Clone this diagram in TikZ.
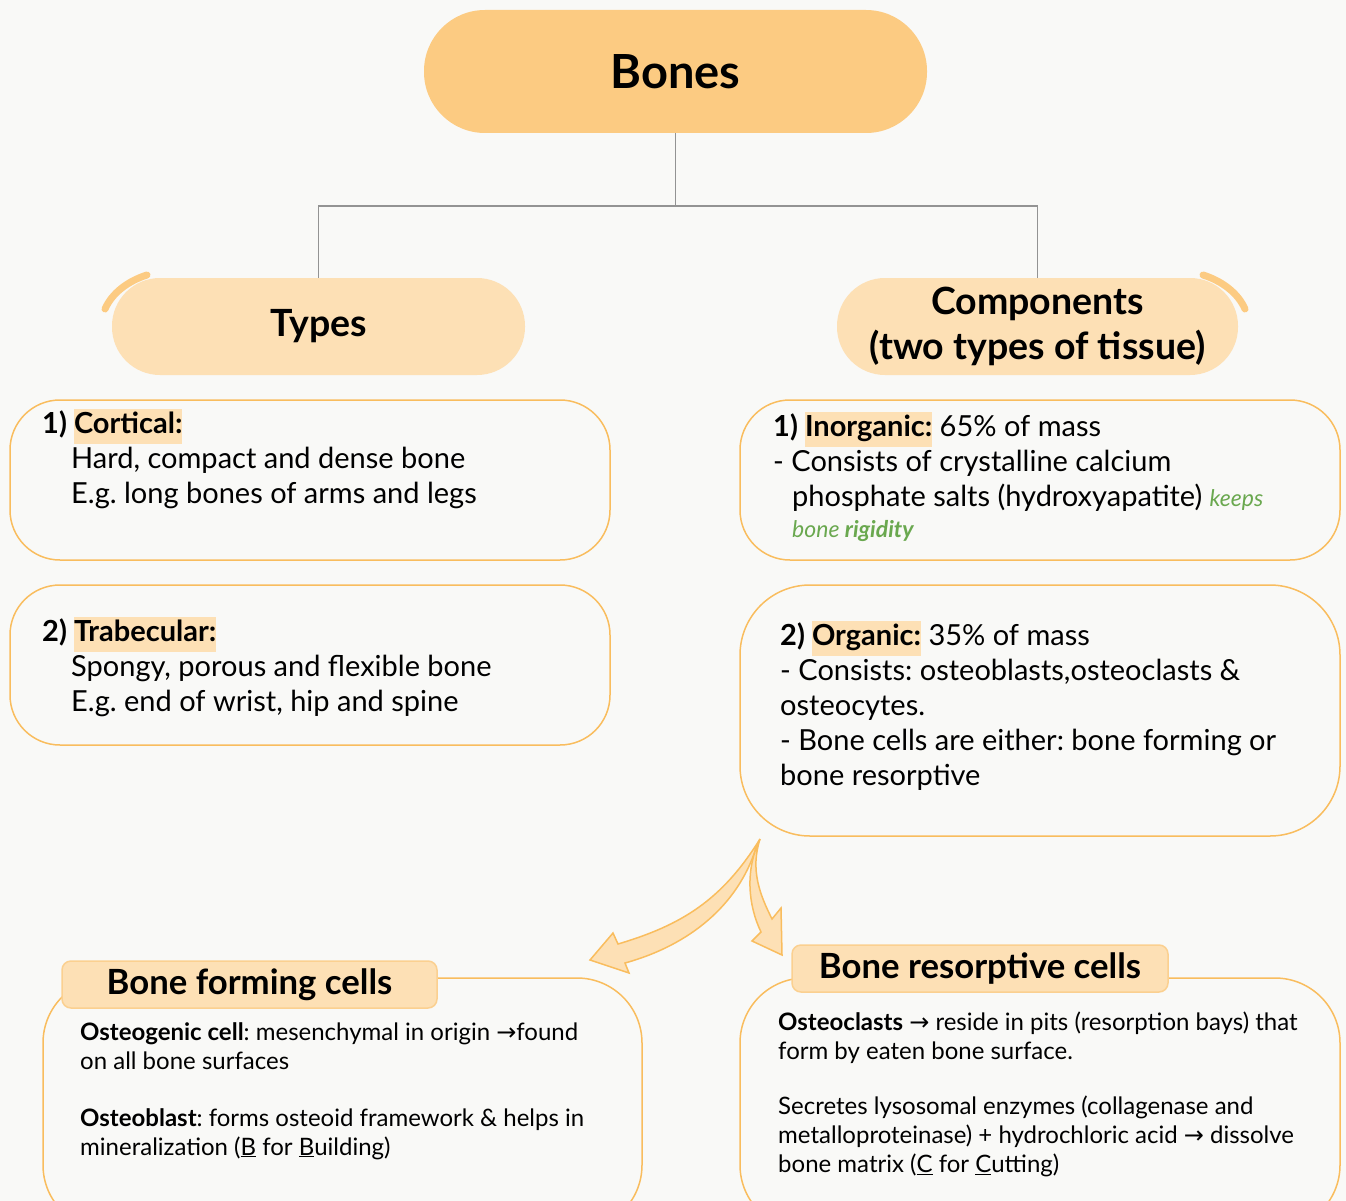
\documentclass[tikz,border=0pt]{standalone}
\usepackage{fontspec}
\setmainfont{Lato}
\newfontfamily\arrowfont{DejaVu Sans}
\usetikzlibrary{positioning}

\definecolor{paper}{HTML}{F9F9F7}
\definecolor{pilldark}{HTML}{FCCB82}
\definecolor{pilllight}{HTML}{FDE0B5}
\definecolor{edge}{HTML}{F9BD5E}
\definecolor{tabedge}{HTML}{FBD090}
\definecolor{leaf}{HTML}{6AA84F}

\newcommand{\hlite}[1]{{\setlength{\fboxsep}{0pt}\colorbox{pilllight}{\strut #1}}}
\newcommand{\rarr}{{\arrowfont →}}

\tikzset{
  pill/.style={fill=pilllight, draw=none, inner sep=0pt, font=\bfseries\fontsize{37.5}{45}\selectfont, align=center},
  card/.style={draw=edge, line width=1.5pt, rounded corners=50pt},
  tab/.style={fill=pilllight, draw=tabedge, line width=1.5pt, rounded corners=9pt,
              font=\bfseries\fontsize{34.7}{40}\selectfont},
  body/.style={anchor=north west, inner sep=0pt, align=left, font=\fontsize{29}{35}\selectfont},
  small/.style={anchor=north west, inner sep=0pt, align=left, font=\fontsize{24}{29}\selectfont},
  tree/.style={draw=gray!85, line width=1.8pt},
  curl/.style={draw=pilldark, line width=7pt, line cap=round},
  bigarrow/.style={fill=pilllight, draw=edge, line width=1.5pt, line join=miter},
}

\begin{document}
\frenchspacing
\begin{tikzpicture}[x=1pt, y=-1pt]
    \fill[paper] (0,0) rectangle (1346,1201);
    \useasboundingbox (0,0) rectangle (1346,1201);

    % headings
    \node[pill, fill=pilldark, minimum width=503pt, minimum height=123pt, rounded corners=61pt,
          font=\bfseries\fontsize{47}{55}\selectfont] (bones) at (675.5,71.5) {Bones};
    \node[pill, minimum width=413pt, minimum height=97pt, rounded corners=48pt] (types) at (318.5,326.5) {Types};
    \node[pill, minimum width=401pt, minimum height=97pt, rounded corners=48pt] (comp) at (1037.5,326.5)
        {Components\\(two types of tissue)};

    \draw[tree] (bones.south) -- ++(0,73) -| (types.north);
    \draw[tree] (bones.south) -- ++(0,73) -| (comp.north);

    \draw[curl] (105,309) .. controls (112,293) and (128,281) .. (147,275);
    \draw[curl] (1203,275) .. controls (1222,281) and (1238,293) .. (1245,309);

    % cards
    \node[card, minimum width=600pt, minimum height=160pt] (cortbox) at (310,480) {};
    \node[card, minimum width=600pt, minimum height=160pt] (trabbox) at (310,665) {};
    \node[card, minimum width=600pt, minimum height=160pt] (inorgbox) at (1040,480) {};
    \node[card, minimum width=600pt, minimum height=251pt, rounded corners=70pt] (orgbox) at (1040,710.5) {};
    \node[card, minimum width=599pt, minimum height=252pt, rounded corners=65pt] (formbox) at (342.5,1104) {};
    \node[card, minimum width=600pt, minimum height=252pt, rounded corners=65pt] (resbox) at (1040,1104) {};

    \node[tab, minimum width=375pt, minimum height=47pt] (formtab) at (249.5,984.5) {Bone forming cells};
    \node[tab, minimum width=376pt, minimum height=47pt] (restab) at (980,968.5) {Bone resorptive cells};

    % card texts
    \node[body] (cort) at (42,408.5) {\strut\textbf{1) \hlite{Cortical:}}\\
        \hspace*{29pt}Hard, compact and dense bone\\
        \hspace*{29pt}E.g. long bones of arms and legs};
    \node[body] (trab) at (42,616.5) {\strut\textbf{2) \hlite{Trabecular:}}\\
        \hspace*{29pt}Spongy, porous and flexible bone\\
        \hspace*{29pt}E.g. end of wrist, hip and spine};
    \node[body] (inorg) at (773,411.5) {\strut\textbf{1) \hlite{Inorganic:}} 65\% of mass\\
        - Consists of crystalline calcium\\
        \hspace*{19pt}phosphate salts (hydroxyapatite) {\color{leaf}\fontsize{23}{29}\selectfont\itshape keeps}\\[-4pt]
        \hspace*{19pt}{\color{leaf}\fontsize{23}{29}\selectfont\itshape bone \textbf{rigidity}}};
    \node[body] (org) at (780,620.5) {\strut\textbf{2) \hlite{Organic:}} 35\% of mass\\
        - Consists: osteoblasts,osteoclasts \&\\
        osteocytes.\\
        - Bone cells are either: bone forming or\\
        bone resorptive};

    \node[small] (osteogen) at (80,1019.7) {\strut\textbf{Osteogenic cell}: mesenchymal in origin \rarr found\\
        on all bone surfaces};
    \node[small] (osteoblast) at (80,1105.7) {\strut\textbf{Osteoblast}: forms osteoid framework \& helps in\\
        mineralization (\underline{B} for \underline{B}uilding)};
    \node[small] (osteoclast) at (778,1009.7) {\strut\textbf{Osteoclasts} \rarr{} reside in pits (resorption bays) that\\
        form by eaten bone surface.};
    \node[small] (secretes) at (778,1093.7) {\strut Secretes lysosomal enzymes (collagenase and\\
        metalloproteinase) + hydrochloric acid \rarr{} dissolve\\
        bone matrix (\underline{C} for \underline{C}utting)};

    % split arrows
    \coordinate (split) at (760,839);
    \draw[bigarrow] (split) .. controls (722,900) and (682,925) .. (618,944) -- (613,933) -- (590,960)
        -- (629,973) -- (625,963) .. controls (690,945) and (738,905) .. (756,848) -- cycle;
    \draw[bigarrow] (split) .. controls (745,870) and (748,905) .. (761,932) -- (752,941) -- (782,955)
        -- (781,908) -- (772,919) .. controls (760,895) and (750,870) .. (split) -- cycle;
\end{tikzpicture}
\end{document}
